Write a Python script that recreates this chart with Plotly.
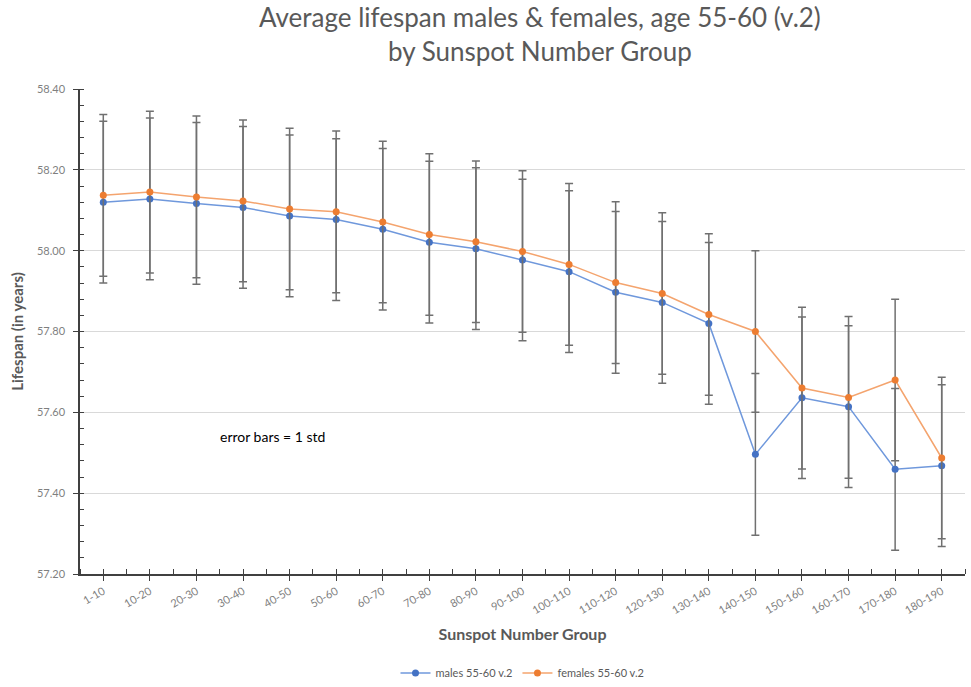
import plotly.graph_objects as go

categories = ["1-10", "10-20", "20-30", "30-40", "40-50", "50-60", "60-70", "70-80",
              "80-90", "90-100", "100-110", "110-120", "120-130", "130-140", "140-150",
              "150-160", "160-170", "170-180", "180-190"]

males = [58.120, 58.128, 58.117, 58.107, 58.086, 58.077, 58.053, 58.021, 58.005, 57.977,
         57.948, 57.897, 57.872, 57.820, 57.496, 57.636, 57.614, 57.459, 57.468]
females = [58.137, 58.145, 58.133, 58.123, 58.103, 58.096, 58.071, 58.040, 58.022, 57.998,
           57.966, 57.921, 57.894, 57.842, 57.800, 57.660, 57.637, 57.680, 57.487]
males_std = [0.20] * 19
females_std = [0.20] * 19

y_ticks = [57.20, 57.40, 57.60, 57.80, 58.00, 58.20, 58.40]

x = list(range(len(categories)))
FONT = "Lato, 'Open Sans', sans-serif"
GRAY = "#595959"

fig = go.Figure()
fig.add_trace(go.Scatter(
    x=x, y=males, name="males 55-60 v.2", mode="lines+markers",
    line=dict(color="#6f98dc", width=1.5),
    marker=dict(color="#4472C4", size=7),
    error_y=dict(type="data", array=males_std, visible=True,
                 color="#707070", thickness=1.5, width=4),
))
fig.add_trace(go.Scatter(
    x=x, y=females, name="females 55-60 v.2", mode="lines+markers",
    line=dict(color="#F4A46E", width=1.5),
    marker=dict(color="#ED7D31", size=7),
    error_y=dict(type="data", array=females_std, visible=True,
                 color="#707070", thickness=1.5, width=4),
))

fig.update_layout(
    width=971, height=687,
    paper_bgcolor="white", plot_bgcolor="white",
    margin=dict(l=80, r=6, t=89, b=113, autoexpand=False),
    font=dict(family=FONT, color=GRAY),
    title=dict(text="Average lifespan males & females, age 55-60 (v.2)<br>by Sunspot Number Group",
               x=0.556, xref="container", xanchor="center",
               y=0.96, yref="container", yanchor="middle",
               font=dict(size=26, color=GRAY, family=FONT)),
    showlegend=True,
    legend=dict(orientation="h", x=0.5, xanchor="center", y=-0.204, yanchor="middle",
                font=dict(size=11, color=GRAY), itemwidth=30),
    xaxis=dict(
        automargin=False,
        range=[-0.5, len(categories) - 0.5],
        tickmode="array", tickvals=x, ticktext=categories, tickangle=-30,
        tickfont=dict(size=11, color="#7f7f7f"),
        showgrid=False, zeroline=False,
        showline=True, linecolor="#404040", linewidth=1.5,
        ticks="outside", ticklen=5, tickcolor="#404040",
        minor=dict(tickmode="linear", tick0=-0.5, dtick=0.5, ticks="inside", ticklen=5,
                   tickcolor="#404040", showgrid=False),
        title=dict(text="<b>Sunspot Number Group</b>", font=dict(size=16, color=GRAY), standoff=14),
    ),
    yaxis=dict(
        automargin=False,
        range=[57.20, 58.40],
        tickmode="array", tickvals=y_ticks, tickformat=".2f",
        tickfont=dict(size=11, color="#7f7f7f"),
        ticklabelstandoff=6,
        showgrid=True, gridcolor="#d9d9d9", gridwidth=1, zeroline=False,
        showline=True, linecolor="#404040", linewidth=1.5,
        ticks="outside", ticklen=5, tickcolor="#404040",
        minor=dict(tickmode="linear", tick0=57.2, dtick=0.04, ticks="inside", ticklen=4,
                   tickcolor="#404040", showgrid=False),
        title=dict(text="<b>Lifespan (in years)</b>", font=dict(size=15, color=GRAY), standoff=10),
    ),
    annotations=[dict(text="error bars = 1 std", x=3.64, y=57.54, xref="x", yref="y",
                      showarrow=False, font=dict(size=14, color="#000000"))],
)

fig.write_html("out.html", config={"displayModeBar": False},
               post_script="document.body.style.margin='0';")
